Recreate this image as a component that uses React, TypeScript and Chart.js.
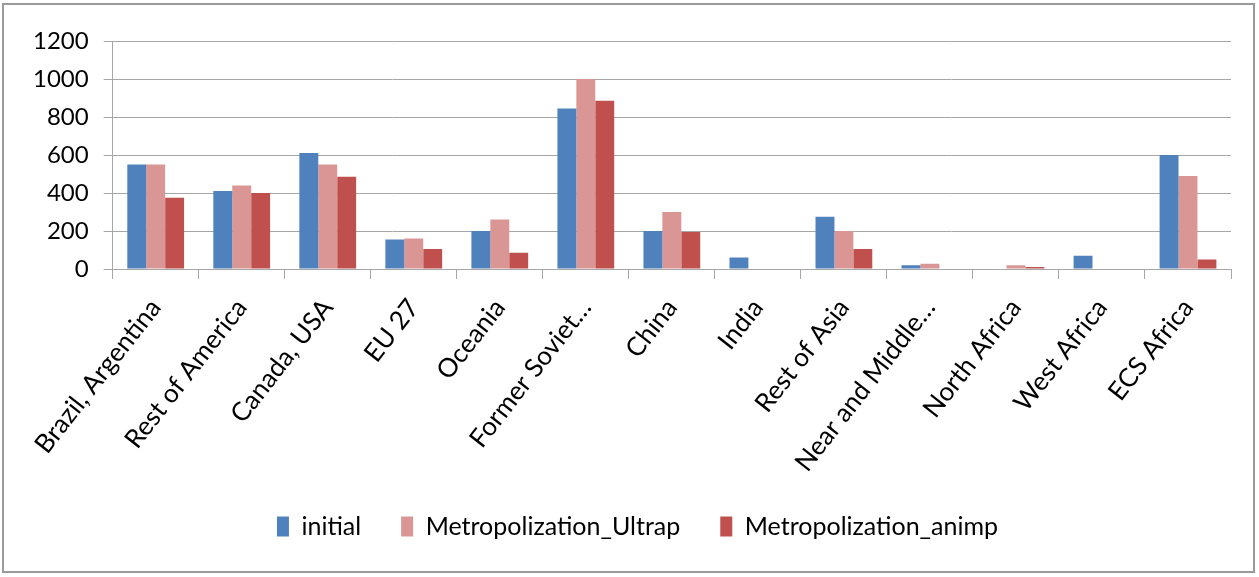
import React, { useEffect, useRef } from "react";
import { Chart, registerables } from "chart.js";

Chart.register(...registerables);

const categories = [
  "Brazil, Argentina",
  "Rest of America",
  "Canada, USA",
  "EU 27",
  "Oceania",
  "Former Soviet\u2026",
  "China",
  "India",
  "Rest of Asia",
  "Near and Middle\u2026",
  "North Africa",
  "West Africa",
  "ECS Africa",
];

const initialValues = [550, 410, 610, 155, 200, 845, 200, 60, 275, 20, 0, 70, 600];
const ultrapValues = [550, 440, 550, 160, 260, 1000, 300, 0, 200, 28, 20, 0, 490];
const animpValues = [375, 400, 485, 105, 85, 885, 195, 0, 105, 0, 10, 0, 50];

const seriesNames = ["initial", "Metropolization_Ultrap", "Metropolization_animp"];
const seriesColors = ["#4F81BD", "#D99694", "#C0504D"];

const yTicks = { min: 0, max: 1200, step: 200 };

const FONT = "Lato, 'Open Sans', sans-serif";

const legendShift = {
  id: "legendShift",
  afterUpdate(chart: any) {
    const lg = chart.legend;
    if (lg) {
      lg.left += 13;
      lg.right += 13;
      if (lg.adjustHitBoxes) lg.adjustHitBoxes();
    }
  },
};

export default function App() {
  const canvasRef = useRef<HTMLCanvasElement | null>(null);

  useEffect(() => {
    const canvas = canvasRef.current;
    if (!canvas) return;
    const chart = new Chart(canvas, {
      type: "bar",
      data: {
        labels: categories,
        datasets: [initialValues, ultrapValues, animpValues].map((d, i) => ({
          label: seriesNames[i],
          data: d,
          backgroundColor: seriesColors[i],
          borderWidth: 0,
          categoryPercentage: 0.66,
          barPercentage: 1.0,
        })),
      },
      plugins: [legendShift],
      options: {
        responsive: false,
        animation: false,
        maintainAspectRatio: false,
        layout: { padding: { left: 18, right: 28, top: 41, bottom: 28 } },
        plugins: {
          tooltip: { enabled: false },
          legend: {
            position: "bottom",
            labels: {
              boxWidth: 12,
              boxHeight: 20,
              padding: 40,
              color: "#000",
              font: { family: FONT, size: 25 },
            },
          },
        },
        scales: {
          x: {
            grid: {
              offset: true,
              drawOnChartArea: false,
              drawTicks: true,
              tickLength: 10,
              color: "#a6a6a6",
            },
            border: { display: true, color: "#a6a6a6", width: 1 },
            ticks: {
              minRotation: 52,
              maxRotation: 52,
              autoSkip: false,
              padding: 14,
              color: "#000",
              font: { family: FONT, size: 26 },
            },
            afterFit: (scale: any) => {
              scale.height = 205;
            },
          },
          y: {
            min: yTicks.min,
            max: yTicks.max,
            grid: {
              color: "#a6a6a6",
              drawTicks: true,
              tickLength: 9,
            },
            border: { display: true, color: "#a6a6a6", width: 1 },
            ticks: {
              stepSize: yTicks.step,
              padding: 15,
              color: "#000",
              font: { family: FONT, size: 24 },
              callback: (v: any) => String(v),
            },
          },
        },
      },
    });
    return () => chart.destroy();
  }, []);

  return (
    <div
      style={{
        position: "absolute",
        left: 0,
        top: 0,
        width: 1259,
        height: 577,
        background: "#fff",
      }}
    >
      <canvas ref={canvasRef} width={1259} height={577} style={{ position: "absolute", left: 0, top: 0 }} />
      <div
        style={{
          position: "absolute",
          left: 2,
          top: 3,
          width: 1253,
          height: 570,
          border: "2px solid #9a9a9a",
          boxSizing: "border-box",
          pointerEvents: "none",
        }}
      />
    </div>
  );
}
